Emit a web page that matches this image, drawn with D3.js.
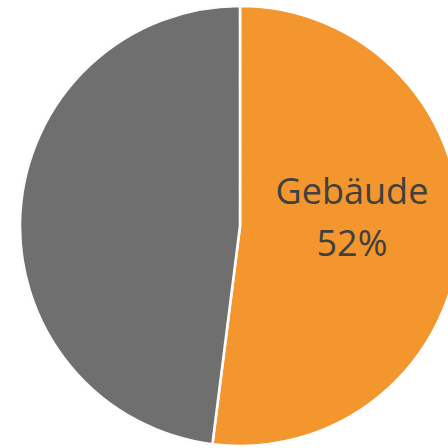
<!DOCTYPE html>
<html>
<head>
<meta charset="utf-8">
<script src="https://cdn.jsdelivr.net/npm/d3@7/dist/d3.min.js"></script>
<style>
  html, body { margin: 0; padding: 0; background: #ffffff; overflow: hidden; }
  svg { display: block; }
</style>
</head>
<body>
<svg id="chart" width="448" height="448"></svg>
<script>
const categories = ["Gebäude", "Sonstige"];
const values = [52, 48];
const labels = ["Gebäude", ""];
const colors = ["#F2962D", "#717171"];

const svg = d3.select("#chart");
const cx = 240, cy = 226, r = 220;

const pie = d3.pie().sort(null).value(d => d.value);
const data = categories.map((c, i) => ({ cat: c, value: values[i], label: labels[i], color: colors[i] }));
const arcs = pie(data);
const total = d3.sum(values);

const arc = d3.arc().innerRadius(0).outerRadius(r);

const defs = svg.append("defs");
const pat = defs.append("filter").attr("id", "grain");
pat.append("feTurbulence").attr("type", "fractalNoise").attr("baseFrequency", 0.9).attr("numOctaves", 1).attr("result", "n");
pat.append("feColorMatrix").attr("in", "n").attr("type", "matrix")
  .attr("values", "0 0 0 0 0  0 0 0 0 0  0 0 0 0 0  0 0 0 0.05 0").attr("result", "a");
pat.append("feComposite").attr("in", "a").attr("in2", "SourceGraphic").attr("operator", "in").attr("result", "b");
pat.append("feMerge").selectAll("feMergeNode").data(["SourceGraphic", "b"]).enter()
  .append("feMergeNode").attr("in", d => d);

const g = svg.append("g").attr("transform", `translate(${cx},${cy})`);

g.selectAll("path.slice")
  .data(arcs)
  .enter()
  .append("path")
  .attr("class", "slice")
  .attr("d", arc)
  .attr("fill", d => d.data.color)
  .attr("filter", (d, i) => i === 1 ? "url(#grain)" : null)
  .attr("stroke", "#ffffff")
  .attr("stroke-width", 2.6)
  .attr("stroke-linejoin", "round");

// label
const labelArc = d3.arc().innerRadius(r * 0.51).outerRadius(r * 0.51);
const lab = g.selectAll("text.lab")
  .data(arcs.filter(d => d.data.label))
  .enter()
  .append("text")
  .attr("class", "lab")
  .attr("transform", d => {
    const c = labelArc.centroid(d);
    return `translate(${c[0]},${c[1] - 6})`;
  })
  .attr("text-anchor", "middle")
  .attr("font-family", "'Open Sans', 'Noto Sans', sans-serif")
  .attr("font-size", 36)
  .attr("fill", "#404040");

lab.append("tspan").attr("x", 0).attr("y", -23).text(d => d.data.label);
lab.append("tspan").attr("x", 0).attr("y", 29).text(d => Math.round(d.data.value / total * 100) + "%");
</script>
</body>
</html>
